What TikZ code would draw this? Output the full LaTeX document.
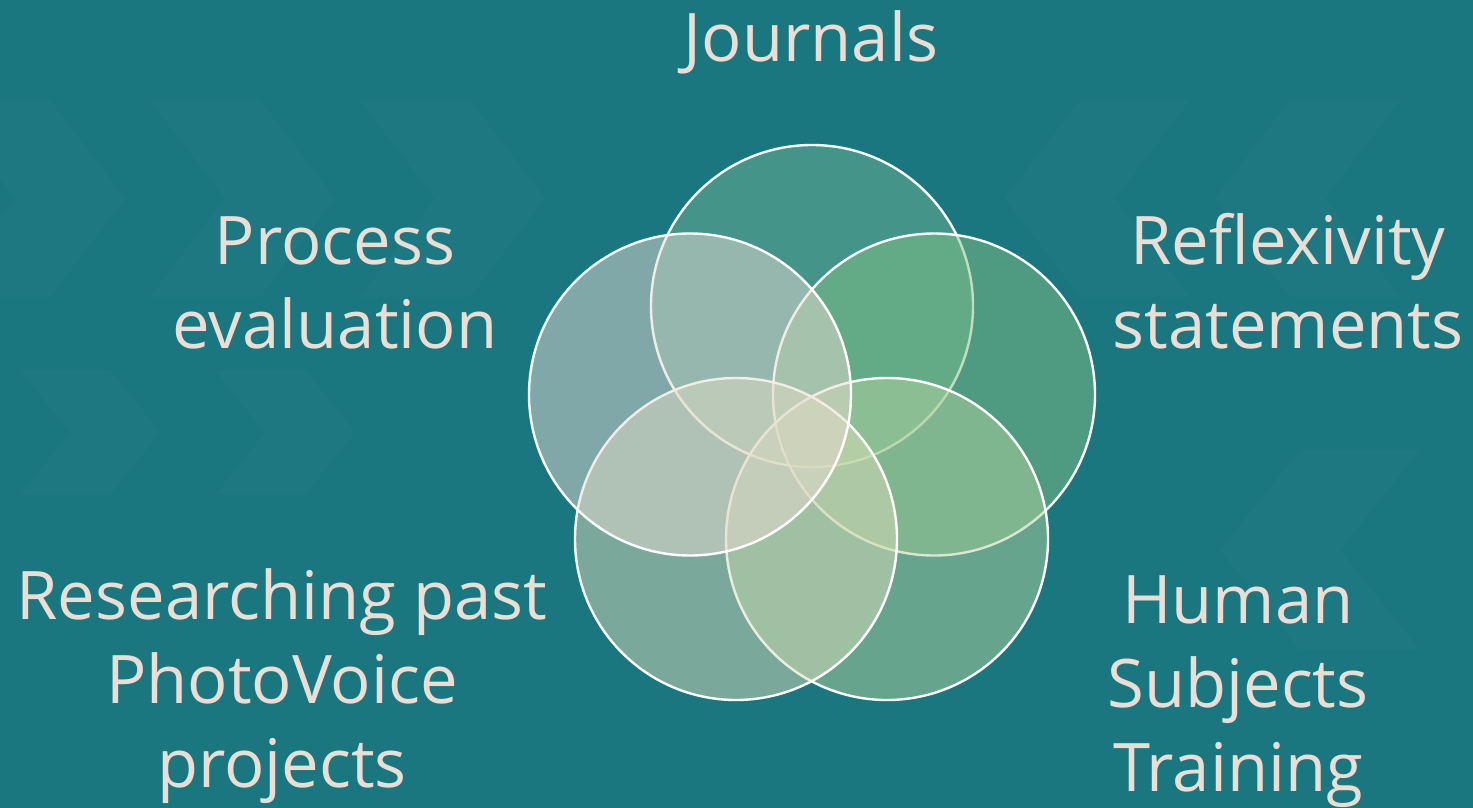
\documentclass[tikz,border=0pt]{standalone}
\usepackage{fontspec}
\setmainfont{Open Sans}
\definecolor{bg}{RGB}{26,118,127}
\definecolor{cJ}{RGB}{111,178,149}
\definecolor{cR}{RGB}{131,192,133}
\definecolor{cH}{RGB}{179,210,157}
\definecolor{cP}{RGB}{219,220,185}
\definecolor{cE}{RGB}{231,218,209}
\definecolor{labeltext}{RGB}{234,221,212}
% faint chevron: x, y, body width, height, point depth (negative points left)
\newcommand\bgchev[5]{\fill[chev] (#1,#2) -- ++(#3,0) -- ++(#5,#4/2) -- ++(-#5,#4/2) -- ++(-#3,0) -- ++(#5,-#4/2) -- cycle;}
\begin{document}
\begin{tikzpicture}[x=1pt,y=-1pt,
  chev/.style={fill=white,fill opacity=0.018},
  venn/.style={circle,minimum size=322pt,inner sep=0pt,draw=white,line width=2.4pt,fill opacity=0.5,draw opacity=1},
  lbl/.style={text=labeltext,font=\fontsize{67}{84}\selectfont,align=center,anchor=base,inner sep=0pt}]
  % canvas
  \useasboundingbox (0,0) rectangle (1473,808);
  \fill[bg] (0,0) rectangle (1473,808);
  % background chevrons
  \bgchev{-60}{100}{110}{197}{75}
  \bgchev{150}{100}{110}{197}{75}
  \bgchev{360}{100}{110}{197}{75}
  \bgchev{1080}{100}{110}{197}{-75}
  \bgchev{1290}{100}{110}{197}{-75}
  \bgchev{20}{370}{90}{125}{50}
  \bgchev{215}{370}{90}{125}{50}
  \bgchev{1300}{450}{120}{200}{-80}
  % overlapping circles, first drawn first
  \node[venn,fill=cJ] (journals) at (812,306) {};
  \node[venn,fill=cR] (reflex) at (934,394.5) {};
  \node[venn,fill=cH] (human) at (887,539) {};
  \node[venn,fill=cP] (research) at (736,539) {};
  \node[venn,fill=cE] (process) at (690,394.5) {};
  % labels (base anchor sits on the last line)
  \node[lbl] (tJ) at (811,62) {Journals};
  \node[lbl] (tR) at (1288,348) {Reflexivity\\statements};
  \node[lbl] (tH) at (1238,791) {Human\\Subjects\\Training};
  \node[lbl] (tP) at (282,787) {Researching past\\PhotoVoice\\projects};
  \node[lbl] (tE) at (335,348) {Process\\evaluation};
\end{tikzpicture}
\end{document}
